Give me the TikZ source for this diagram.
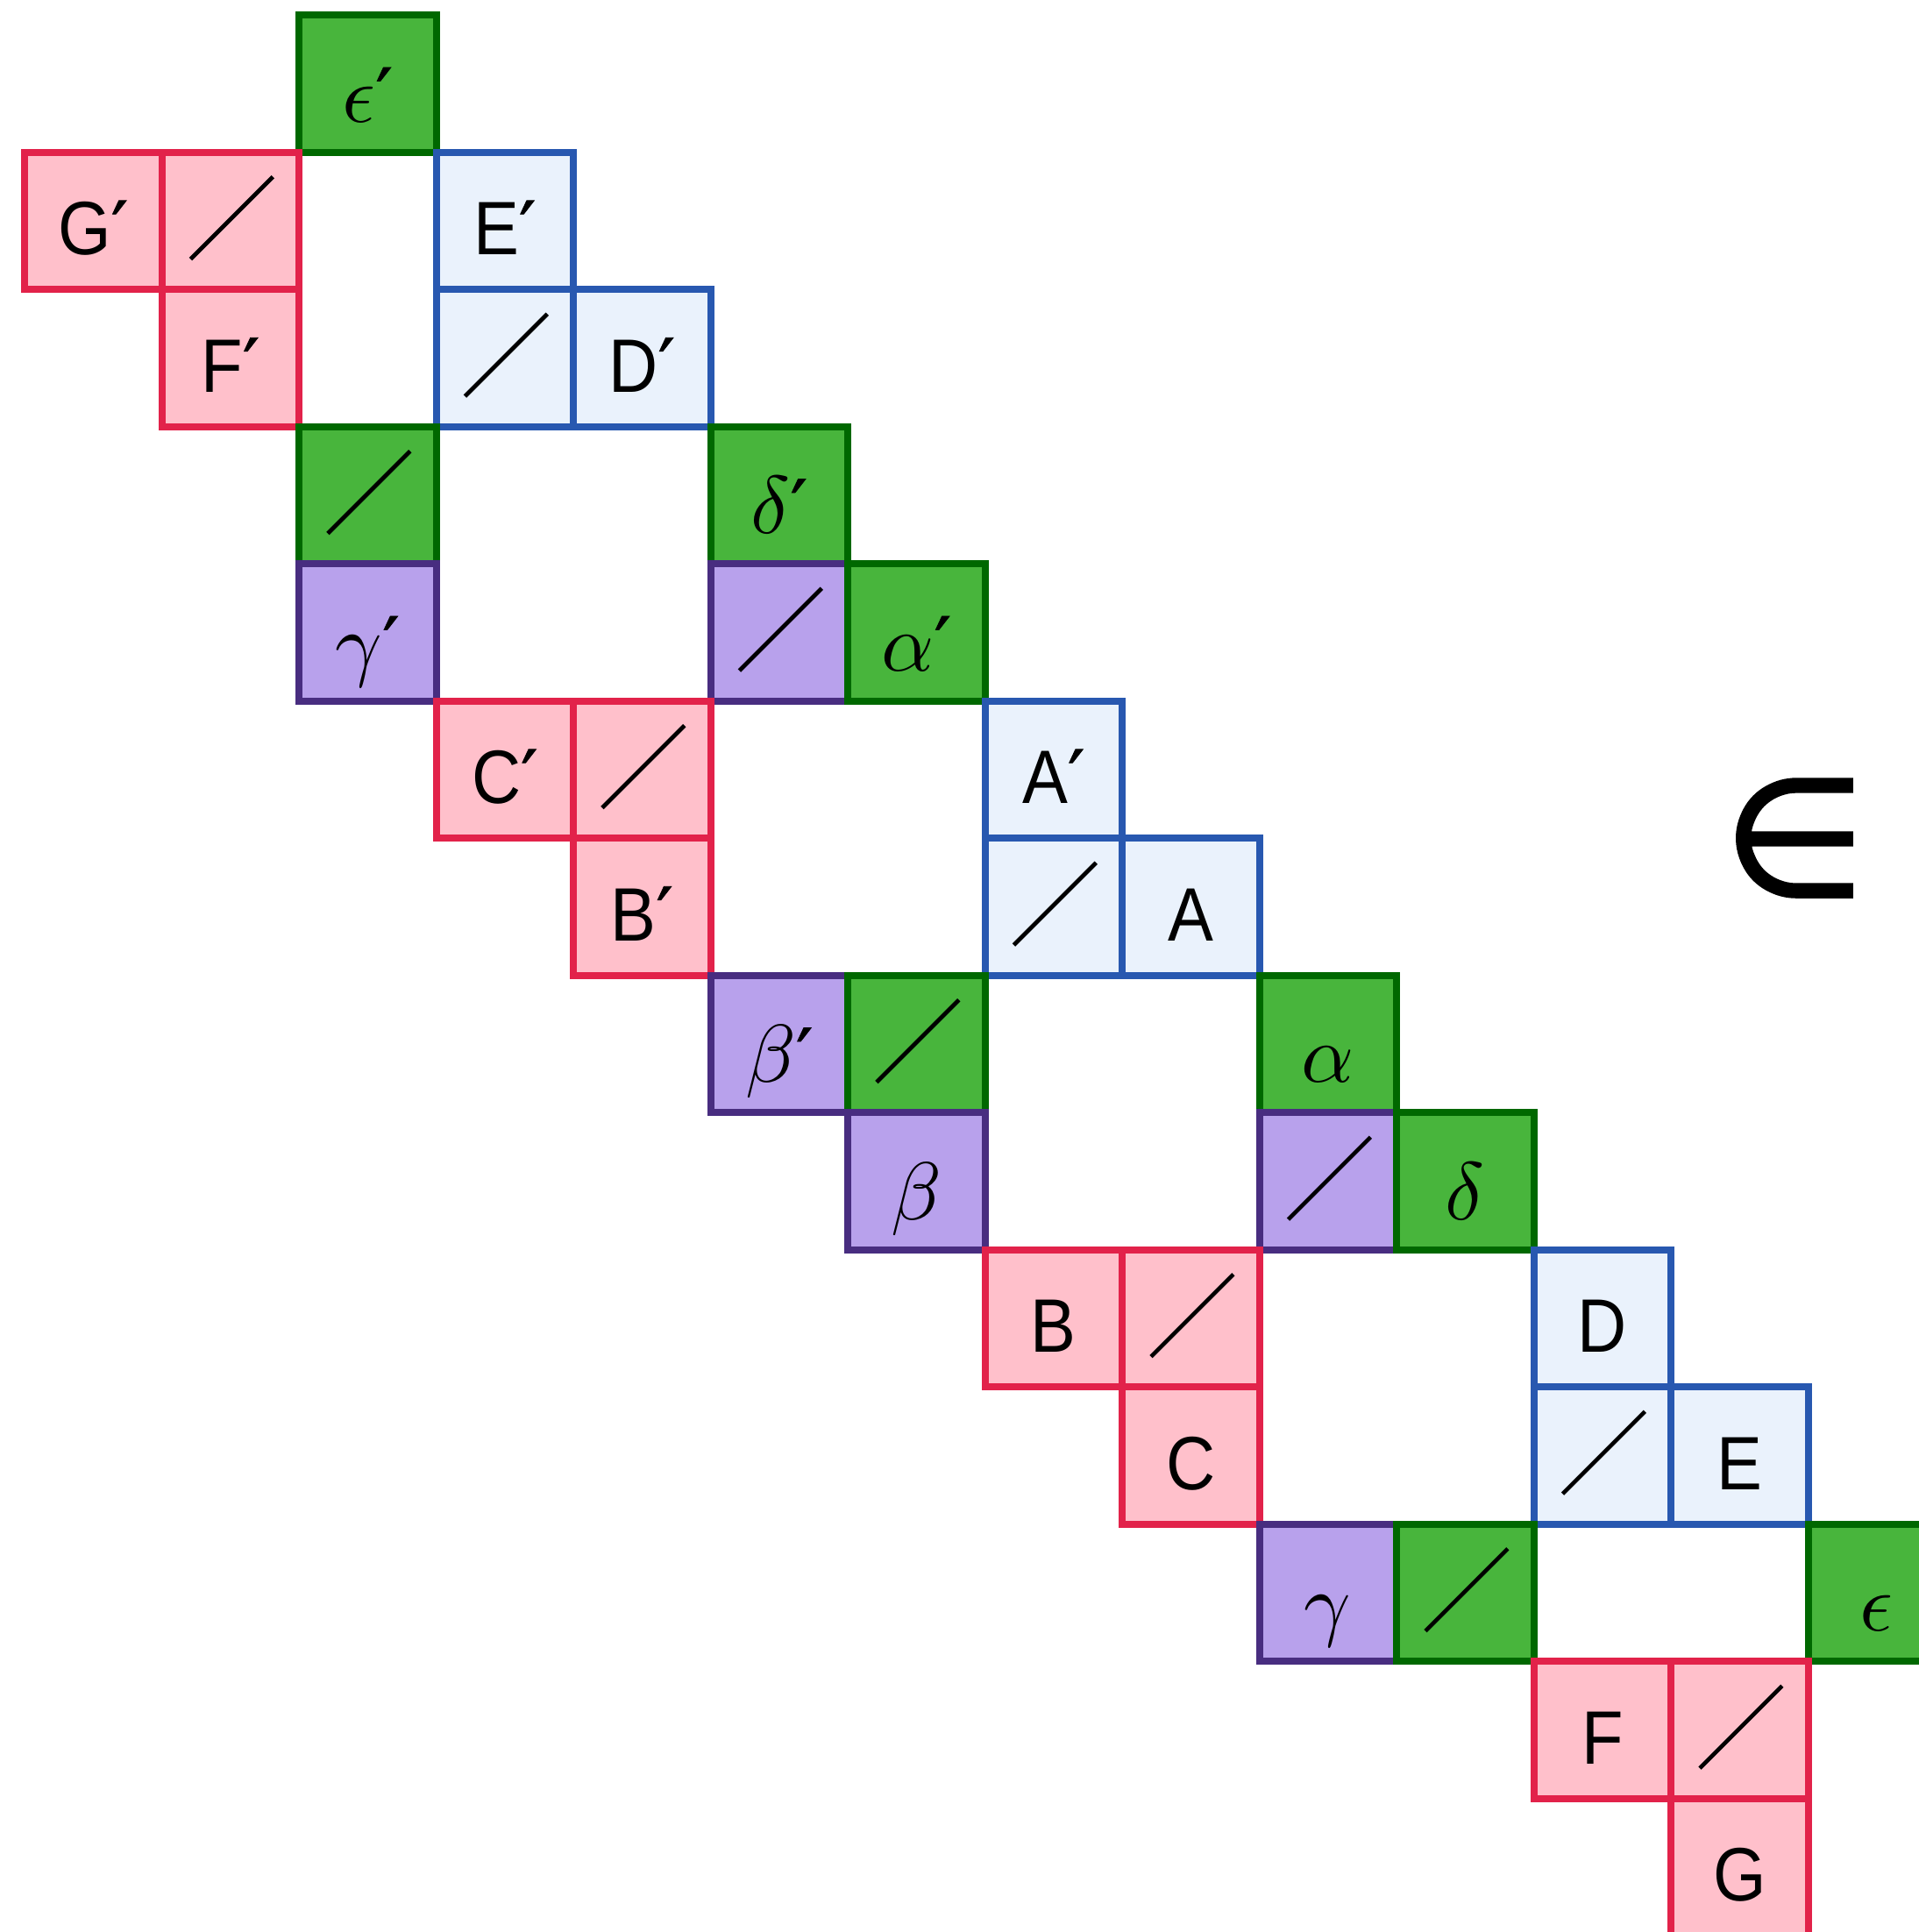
\documentclass[tikz,border=0pt]{standalone}
\usepackage{amsmath, amssymb}
\usepackage{graphicx}
\usepackage{fontspec}
\newfontfamily\cellfont[FakeStretch=0.9]{Liberation Sans}
\newfontfamily\symfont[FakeBold=1]{DejaVu Sans}
\newfontfamily\elemfont[FakeBold=1.5]{DejaVu Sans}
\newcommand{\pr}{{\symfont\fontsize{15.5}{18}\selectfont ′}}
\newcommand{\gk}[1]{{\fontsize{10}{12}\selectfont\scalebox{1.7}{$#1$}}}

\definecolor{grfill}{RGB}{72,181,60}
\definecolor{grline}{RGB}{0,104,0}
\definecolor{blfill}{RGB}{234,242,252}
\definecolor{blline}{RGB}{40,88,176}
\definecolor{pkfill}{RGB}{255,192,203}
\definecolor{pkline}{RGB}{226,34,74}
\definecolor{pufill}{RGB}{184,161,236}
\definecolor{puline}{RGB}{72,45,128}

\begin{document}
\begin{tikzpicture}[node distance=1cm,
		cell/.style={draw, minimum size=1cm, inner sep=0pt, line width=1.45pt, text height=.5cm, text depth=0pt, font=\cellfont\fontsize{15.7}{18}\selectfont},
		greek/.style={text height=.56cm},
		grn/.style={cell, fill=grfill, draw=grline},
		blu/.style={cell, fill=blfill, draw=blline},
		pnk/.style={cell, fill=pkfill, draw=pkline},
		prp/.style={cell, fill=pufill, draw=puline},
		slashed/.style={path picture={\draw [line width=.85pt, black] ([shift={(-.29,-.28)}]path picture bounding box.center) -- ([shift={(.31,.32)}]path picture bounding box.center);}}]
			\useasboundingbox (-0.179,0.109) rectangle (13.802,-13.974);
			
			\node [grn, greek] (epsp) at (2.5,-.5) {\gk{\epsilon}\pr};
			\node [pnk] (Gp) at (.5,-1.5) {G\pr};
			\node [pnk, slashed, right of=Gp] (slashGp) {};
			\node [pnk, below of=slashGp] (Fp) {F\pr};
			\node [blu] (Ep) at (3.5,-1.5) {E\pr};
			\node [blu, slashed, below of=Ep] (slashEp) {};
			\node [blu, right of=slashEp] (Dp) {D\pr};
			
			\node [grn, slashed] (slashgammap) at (2.5,-3.5) {};
			\node [prp, greek, below of=slashgammap] (gammap) {\gk{\gamma}\pr};
			\node [grn, greek] (deltap) at (5.5,-3.5) {\gk{\delta}\pr};
			\node [prp, slashed, below of=deltap] (slashdeltap) {};
			\node [grn, greek, right of=slashdeltap] (alphap) {\gk{\alpha}\pr};
			
			\node [pnk] (Cp) at (3.5,-5.5) {C\pr};
			\node [pnk, slashed, right of=Cp] (slashCp) {};
			\node [pnk, below of=slashCp] (Bp) {B\pr};
			\node [blu] (Ap) at (7.5,-5.5) {A\pr};
			\node [blu, slashed, below of=Ap] (slashAp) {};
			\node [blu, right of=slashAp] (A) {A};
			
			\node [prp, greek] (betap) at (5.5,-7.5) {\gk{\beta}\pr};
			\node [grn, slashed, right of=betap] (slashbetap) {};
			\node [prp, greek, below of=slashbetap] (beta) {\gk{\beta}};
			\node [grn, greek] (alpha) at (9.5,-7.5) {\gk{\alpha}};
			\node [prp, slashed, below of=alpha] (slashalpha) {};
			\node [grn, greek, right of=slashalpha] (delta) {\gk{\delta}};
			
			\node [pnk] (B) at (7.5,-9.5) {B};
			\node [pnk, slashed, right of=B] (slashB) {};
			\node [pnk, below of=slashB] (C) {C};
			\node [blu] (D) at (11.5,-9.5) {D};
			\node [blu, slashed, below of=D] (slashD) {};
			\node [blu, right of=slashD] (E) {E};
			
			\node [prp, greek] (gamma) at (9.5,-11.5) {\gk{\gamma}};
			\node [grn, slashed, right of=gamma] (slashgamma) {};
			\node [grn, greek] (eps) at (13.5,-11.5) {\gk{\epsilon}};
			\node [pnk] (F) at (11.5,-12.5) {F};
			\node [pnk, slashed, right of=F] (slashF) {};
			\node [pnk, below of=slashF] (G) {G};
			
			\node [font=\elemfont\fontsize{34}{34}\selectfont] (elem) at (12.9,-6) {∈};
		\end{tikzpicture}
\end{document}
